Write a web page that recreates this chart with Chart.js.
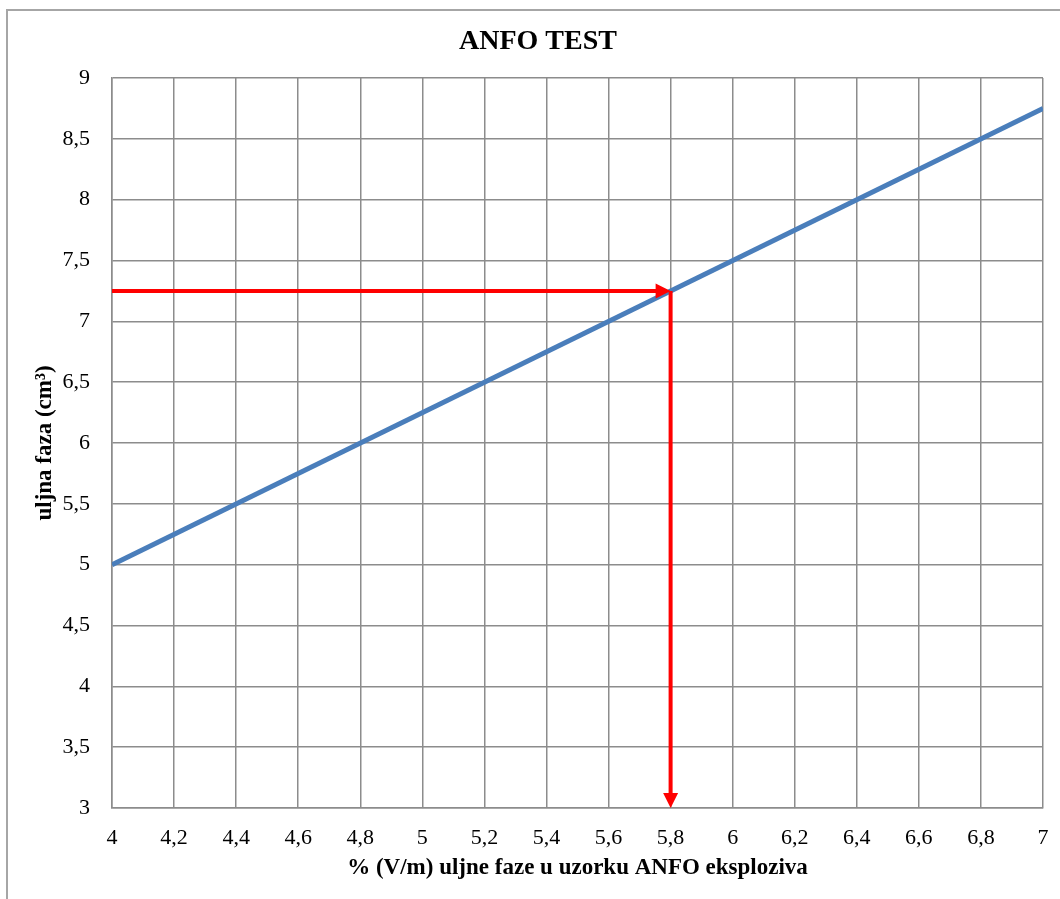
<!DOCTYPE html>
<html>
<head>
<meta charset="utf-8">
<script src="https://cdn.jsdelivr.net/npm/chart.js@4/dist/chart.umd.min.js"></script>
<style>
    html, body { margin: 0; padding: 0; background: #fff; overflow: hidden; }
    #wrap { position: relative; width: 1060px; height: 899px; }
    #frame { position: absolute; left: 6px; top: 9px; width: 1100px; height: 950px; border: 2px solid #a6a6a6; box-sizing: border-box; }
    #chart { position: absolute; left: 0; top: 0; }
</style>
</head>
<body>
<div id="wrap">
    <div id="frame"></div>
    <canvas id="chart" width="1060" height="899"></canvas>
</div>
<script>
// linija ANFO testa
const xValues = [4, 7];
const yValues = [5, 8.75];

// očitanje (strelice)
const markX = 5.8;
const markY = 7.25;

const xMin = 4, xMax = 7, xStep = 0.2;
const yMin = 3, yMax = 9, yStep = 0.5;

const chartTitle = 'ANFO TEST';
const xTitle = '% (V/m) uljne faze u uzorku ANFO eksploziva';
const yTitle = 'uljna faza (cm³)';

const serif = "'Liberation Serif', 'Times New Roman', serif";
const red = '#ff0000';

function fmt(v) {
    return String(Math.round(v * 10) / 10).replace('.', ',');
}

// naslov (centriran na okvir, ne na canvas)
const titlePlugin = {
    id: 'titlePlugin',
    afterDraw(chart) {
        const ctx = chart.ctx;
        ctx.save();
        ctx.font = 'bold 28px ' + serif;
        ctx.fillStyle = '#000';
        ctx.textAlign = 'center';
        ctx.textBaseline = 'middle';
        ctx.fillText(chartTitle, 538, 42);
        ctx.restore();
    }
};

// vrhovi strelica
const arrowHeads = {
    id: 'arrowHeads',
    afterDatasetsDraw(chart) {
        const { ctx, scales: { x, y } } = chart;
        const tipH = { x: x.getPixelForValue(markX), y: y.getPixelForValue(markY) };
        const tipV = { x: x.getPixelForValue(markX), y: y.getPixelForValue(yMin) };
        const len = 15, half = 7.5;
        ctx.save();
        ctx.fillStyle = red;
        ctx.beginPath();
        ctx.moveTo(tipH.x, tipH.y);
        ctx.lineTo(tipH.x - len, tipH.y - half);
        ctx.lineTo(tipH.x - len, tipH.y + half);
        ctx.closePath();
        ctx.fill();
        ctx.beginPath();
        ctx.moveTo(tipV.x, tipV.y);
        ctx.lineTo(tipV.x - half, tipV.y - len);
        ctx.lineTo(tipV.x + half, tipV.y - len);
        ctx.closePath();
        ctx.fill();
        ctx.restore();
    }
};

new Chart(document.getElementById('chart'), {
    type: 'scatter',
    data: {
        datasets: [
            {
                data: [{ x: xMin, y: markY }, { x: markX - 0.04, y: markY }],
                showLine: true,
                borderColor: red,
                borderWidth: 4,
                pointRadius: 0
            },
            {
                data: [{ x: markX, y: markY }, { x: markX, y: yMin + 0.08 }],
                showLine: true,
                borderColor: red,
                borderWidth: 4,
                pointRadius: 0
            },
            {
                data: xValues.map((v, i) => ({ x: v, y: yValues[i] })),
                showLine: true,
                borderColor: '#4a7ebb',
                borderWidth: 5,
                pointRadius: 0
            }
        ]
    },
    options: {
        responsive: false,
        animation: false,
        layout: { padding: { left: 0, right: 17, top: 78, bottom: 0 } },
        plugins: {
            legend: { display: false },
            tooltip: { enabled: false },
            title: { display: false }
        },
        scales: {
            x: {
                type: 'linear',
                min: xMin,
                max: xMax,
                afterFit: s => { s.height = 91; },
                ticks: {
                    stepSize: xStep,
                    autoSkip: false,
                    maxRotation: 0,
                    padding: 6,
                    color: '#000',
                    font: { family: serif, size: 22 },
                    callback: v => fmt(v)
                },
                grid: { color: '#8c8c8c', lineWidth: 1.5, drawTicks: true, tickLength: 11, tickColor: 'rgba(0,0,0,0)' },
                border: { color: '#8c8c8c', width: 1.5 },
                title: {
                    display: true,
                    text: xTitle,
                    color: '#000',
                    font: { family: serif, size: 23, weight: 'bold' },
                    padding: { top: 0, bottom: 17 }
                }
            },
            y: {
                min: yMin,
                max: yMax,
                afterFit: s => { s.width = 112; },
                ticks: {
                    stepSize: yStep,
                    padding: 22,
                    color: '#000',
                    font: { family: serif, size: 22 },
                    callback: v => fmt(v)
                },
                grid: { color: '#8c8c8c', lineWidth: 1.5, drawTicks: false },
                border: { color: '#8c8c8c', width: 1.5 },
                title: {
                    display: true,
                    text: yTitle,
                    color: '#000',
                    font: { family: serif, size: 23, weight: 'bold' },
                    padding: { top: 31, bottom: 0 }
                }
            }
        }
    },
    plugins: [arrowHeads, titlePlugin]
});
</script>
</body>
</html>
